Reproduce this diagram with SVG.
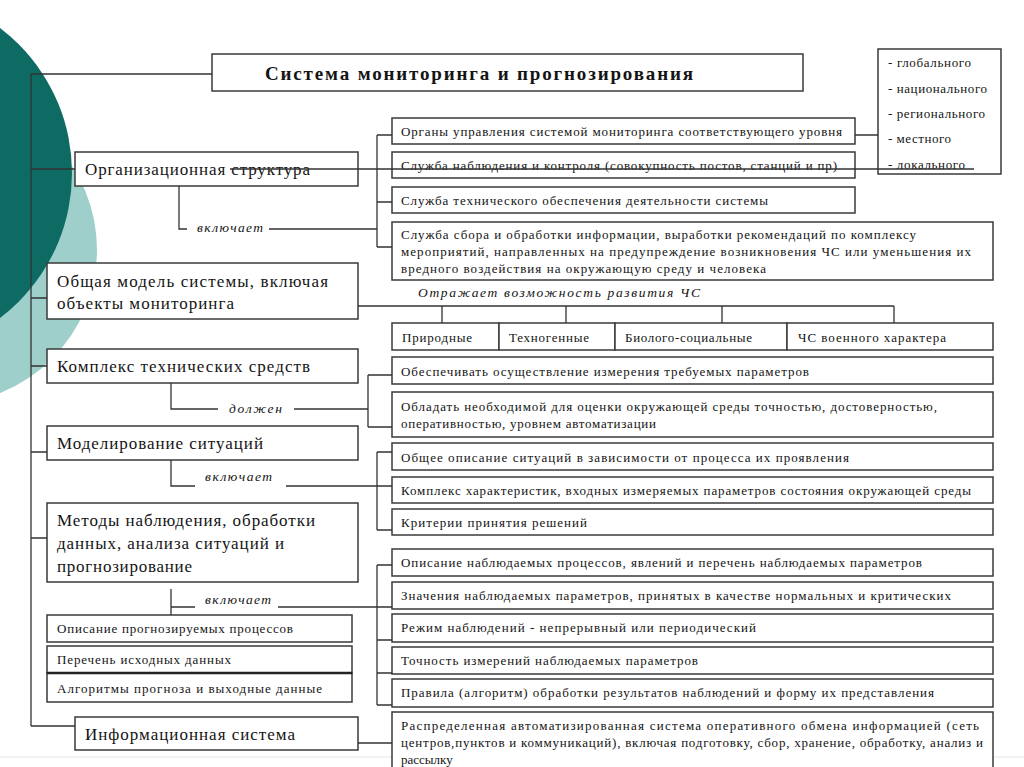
<svg xmlns="http://www.w3.org/2000/svg" width="1024" height="767" viewBox="0 0 1024 767">
<style>
.box{fill:#fff;stroke:#3a3a3a;stroke-width:1.5}
.ln{stroke:#333;stroke-width:1.3;fill:none}
.t{font-family:"Liberation Serif","Times New Roman",serif;font-size:13px;fill:#141414}
.big{font-size:17px}
.it{font-style:italic;font-size:13.5px}
.ttl{font-weight:bold;font-size:19px}
</style>
<rect width="1024" height="767" fill="#fff"/>
<g id="background">
<circle cx="-57" cy="250" r="154" fill="#9fcfcb"/>
<circle cx="-110" cy="173" r="182" fill="#0e6b64"/>
<line x1="0" y1="757" x2="1024" y2="757" stroke="#e4e4e4" stroke-width="1"/>
</g>
<g id="title"><rect class="box" x="212" y="54" width="591" height="37"/><text class="t ttl" x="265" y="80" textLength="428">Система  мониторинга  и  прогнозирования</text></g>
<g id="levels"><rect class="box" x="878" y="49" width="123" height="125"/>
<text class="t" x="888" y="67" textLength="83">- глобального</text>
<text class="t" x="888" y="93" textLength="99">- национального</text>
<text class="t" x="888" y="118" textLength="97">- регионального</text>
<text class="t" x="888" y="143" textLength="63">- местного</text>
<text class="t" x="888" y="169" textLength="77">- локального</text></g>
<g id="org"><rect class="box" x="75" y="152" width="283" height="34"/><text class="t big" x="85" y="175" textLength="225">Организационная  структура</text></g>
<g id="organy"><rect class="box" x="392" y="118" width="463" height="26"/><text class="t" x="401" y="136" textLength="441">Органы  управления  системой мониторинга  соответствующего уровня</text></g>
<g id="sluzhba-nabl"><rect class="box" x="392" y="152" width="463" height="26"/><text class="t" x="401" y="170" textLength="436">Служба наблюдения  и контроля (совокупность  постов, станций  и  пр)</text></g>
<g id="sluzhba-tech"><rect class="box" x="392" y="187" width="463" height="26"/><text class="t" x="401" y="205" textLength="367">Служба  технического  обеспечения  деятельности  системы</text></g>
<g id="sluzhba-sbora"><rect class="box" x="392" y="222" width="601" height="58"/>
<text class="t" x="401" y="239" textLength="515">Служба  сбора  и  обработки  информации, выработки  рекомендаций  по комплексу</text>
<text class="t" x="401" y="256" textLength="570">мероприятий,  направленных на  предупреждение  возникновения  ЧС или  уменьшения  их</text>
<text class="t" x="401" y="273" textLength="365">вредного  воздействия  на  окружающую  среду  и человека</text></g>
<g id="obshaya"><rect class="box" x="47" y="263" width="311" height="56"/>
<text class="t big" x="57" y="287" textLength="271">Общая  модель  системы, включая</text>
<text class="t big" x="57" y="309" textLength="177">объекты  мониторинга</text></g>
<g id="cat-1"><rect class="box" x="392" y="323" width="107" height="27"/><text class="t" x="402" y="342" textLength="70">Природные</text></g>
<g id="cat-2"><rect class="box" x="499" y="323" width="116" height="27"/><text class="t" x="509" y="342" textLength="80">Техногенные</text></g>
<g id="cat-3"><rect class="box" x="615" y="323" width="172" height="27"/><text class="t" x="625" y="342" textLength="127">Биолого-социальные</text></g>
<g id="cat-4"><rect class="box" x="787" y="323" width="206" height="27"/><text class="t" x="798" y="342" textLength="148">ЧС  военного  характера</text></g>
<g id="kompleks"><rect class="box" x="47" y="349" width="311" height="34"/><text class="t big" x="57" y="372" textLength="253">Комплекс  технических  средств</text></g>
<g id="obespechivat"><rect class="box" x="392" y="357" width="601" height="27"/><text class="t" x="401" y="376" textLength="408">Обеспечивать  осуществление  измерения  требуемых  параметров</text></g>
<g id="obladat"><rect class="box" x="392" y="392" width="601" height="45"/>
<text class="t" x="401" y="411" textLength="536">Обладать  необходимой  для  оценки  окружающей среды  точностью, достоверностью,</text>
<text class="t" x="401" y="428" textLength="255">оперативностью, уровнем автоматизации</text></g>
<g id="modelirovanie"><rect class="box" x="47" y="426" width="311" height="34"/><text class="t big" x="57" y="449" textLength="206">Моделирование  ситуаций</text></g>
<g id="obshee"><rect class="box" x="392" y="443" width="601" height="27"/><text class="t" x="401" y="462" textLength="448">Общее  описание  ситуаций  в  зависимости  от процесса  их  проявления</text></g>
<g id="kompleks-har"><rect class="box" x="392" y="477" width="601" height="26"/><text class="t" x="401" y="495" textLength="570">Комплекс  характеристик, входных  измеряемых  параметров состояния  окружающей среды</text></g>
<g id="kriterii"><rect class="box" x="392" y="509" width="601" height="26"/><text class="t" x="401" y="527" textLength="186">Критерии  принятия  решений</text></g>
<g id="metody"><rect class="box" x="47" y="503" width="311" height="79"/>
<text class="t big" x="57" y="526" textLength="258">Методы  наблюдения, обработки</text>
<text class="t big" x="57" y="549" textLength="227">данных, анализа ситуаций  и</text>
<text class="t big" x="57" y="572" textLength="135">прогнозирование</text></g>
<g id="opisanie-progn"><rect class="box" x="47" y="615" width="305" height="27"/><text class="t" x="57" y="633" textLength="236">Описание  прогнозируемых процессов</text></g>
<g id="perechen"><rect class="box" x="47" y="646" width="305" height="27"/><text class="t" x="57" y="664" textLength="174">Перечень  исходных данных</text></g>
<g id="algoritmy"><rect class="box" x="47" y="673" width="305" height="29"/><text class="t" x="57" y="693" textLength="265">Алгоритмы  прогноза и  выходные  данные</text>
<line x1="47" y1="673" x2="352" y2="673" stroke="#222" stroke-width="2.6"/></g>
<g id="opisanie-nabl"><rect class="box" x="392" y="549" width="601" height="27"/><text class="t" x="401" y="567" textLength="521">Описание наблюдаемых  процессов,  явлений и перечень  наблюдаемых  параметров</text></g>
<g id="znacheniya"><rect class="box" x="392" y="582" width="601" height="27"/><text class="t" x="401" y="600" textLength="550">Значения  наблюдаемых  параметров,  принятых  в  качестве  нормальных  и критических</text></g>
<g id="rezhim"><rect class="box" x="392" y="614" width="601" height="28"/><text class="t" x="401" y="632" textLength="355">Режим  наблюдений  -  непрерывный  или  периодический</text></g>
<g id="tochnost"><rect class="box" x="392" y="647" width="601" height="27"/><text class="t" x="401" y="665" textLength="297">Точность  измерений наблюдаемых  параметров</text></g>
<g id="pravila"><rect class="box" x="392" y="679" width="601" height="28"/><text class="t" x="401" y="697" textLength="533">Правила (алгоритм) обработки  результатов  наблюдений  и  форму  их  представления</text></g>
<g id="info"><rect class="box" x="75" y="717" width="283" height="33"/><text class="t big" x="85" y="740" textLength="210">Информационная  система</text></g>
<g id="raspred"><rect class="box" x="392" y="712" width="601" height="62"/>
<text class="t" x="401" y="730" textLength="578">Распределенная автоматизированная  система  оперативного  обмена информацией (сеть</text>
<text class="t" x="401" y="747" textLength="582">центров,пунктов и  коммуникаций),  включая подготовку, сбор, хранение, обработку, анализ и</text>
<text class="t" x="401" y="764">рассылку</text></g>
<g id="connectors">
<path class="ln" d="M31 74V726M31 74H212M31 169H75M31 298H47M31 366H47M31 452H47M31 538H47M31 726H75"/>
<path class="ln" d="M230 169H974M855 135H878"/>
<path class="ln" d="M377 135V247M377 135H392M377 202H392M377 247H392M179 186V229H187M269 229H377"/>
<path class="ln" d="M358 306H894M442 306V323M566 306V323M722 306V323M894 306V323"/>
<path class="ln" d="M171 383V409H218M294 409H368M368 375V427M368 375H392M368 427H392"/>
<path class="ln" d="M171 460V486H195M286 486H392M377 452V530M377 452H392M377 530H392"/>
<path class="ln" d="M171 589V615M171 607H195M278 607H392M377 565V705M377 565H392M377 640H392M377 673H392M377 705H392"/>
<path class="ln" d="M358 743H392"/>
<text class="t it" x="197" y="232" textLength="66">включает</text>
<text class="t it" x="229" y="413" textLength="53">должен</text>
<text class="t it" x="205" y="481" textLength="67">включает</text>
<text class="t it" x="205" y="604" textLength="66">включает</text>
<text class="t it" x="418" y="297" textLength="282">Отражает  возможность  развития  ЧС</text>
</g>
</svg>
